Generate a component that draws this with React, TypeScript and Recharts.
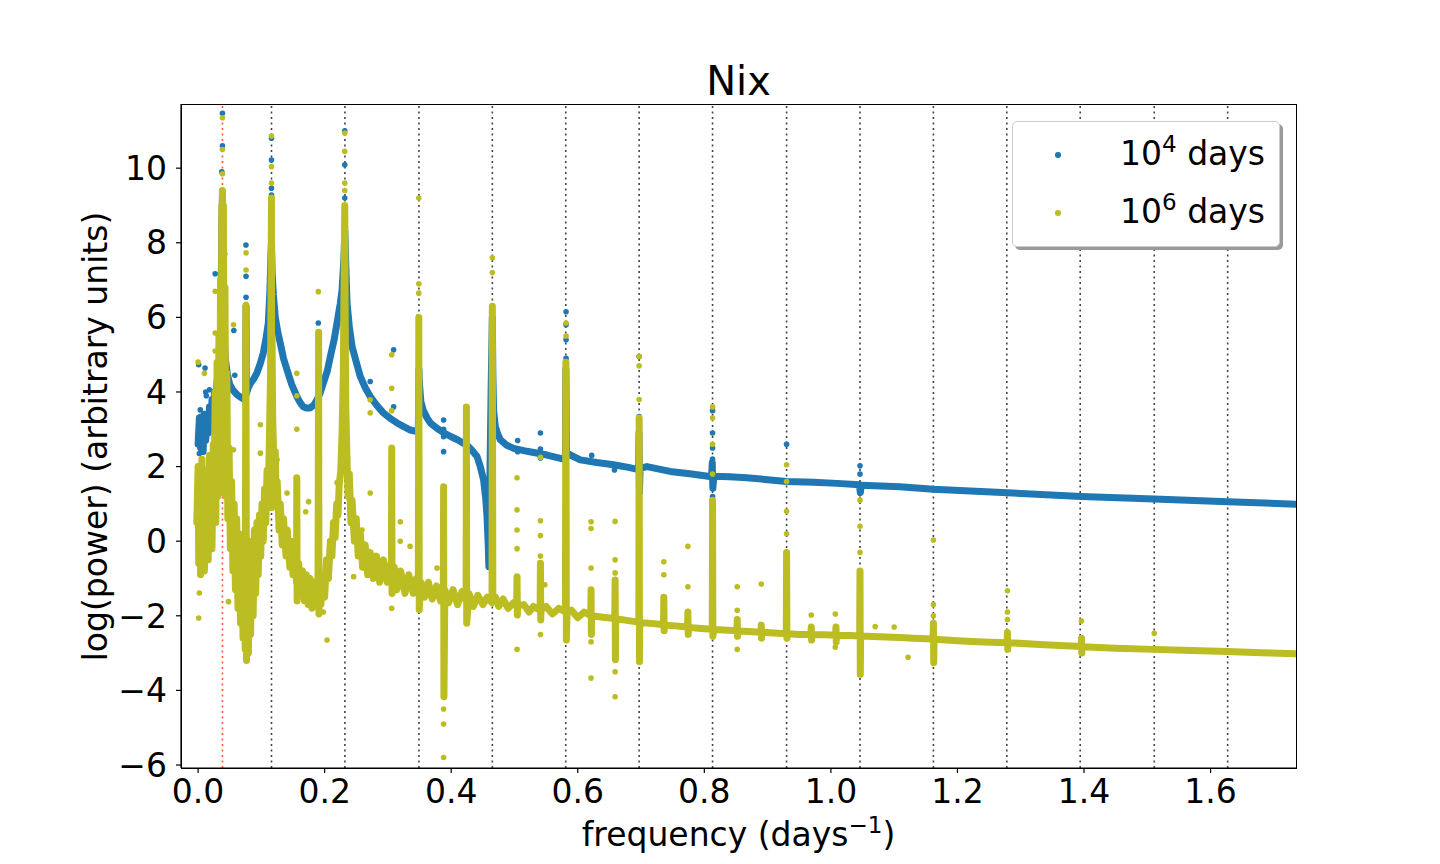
import { ReferenceLine, Scatter, ScatterChart, XAxis, YAxis } from "recharts";

const BLUE = "#1f77b4";
const OLIVE = "#bcbd22";

const xTicks = [0, 0.2, 0.4, 0.6, 0.8, 1.0, 1.2, 1.4, 1.6];
const yTicks = [-6, -4, -2, 0, 2, 4, 6, 8, 10];

// Nix orbital frequency (red) and the resonance lines (black)
const nixFreq = 0.0385;
const resonanceFreqs = [0.116, 0.232, 0.349, 0.465, 0.581, 0.697, 0.813, 0.93, 1.046, 1.162, 1.278, 1.394, 1.511, 1.627];

// 10^4 days: dense band, read along its middle
const blueBand: [number, number][] = [
  [0.0, 2.6], [0.002, 3.3], [0.004, 2.5], [0.006, 3.0], [0.008, 2.4], [0.01, 3.4], [0.012, 2.7],
  [0.014, 3.2], [0.016, 2.9], [0.018, 3.6], [0.02, 3.0], [0.022, 3.8], [0.024, 3.3], [0.026, 4.0],
  [0.028, 3.6], [0.03, 4.3], [0.032, 4.0], [0.034, 4.8], [0.036, 5.8], [0.0375, 8.5], [0.0385, 9.3],
  [0.0395, 8.0], [0.041, 5.6], [0.043, 4.9], [0.046, 4.5], [0.05, 4.2], [0.055, 4.05], [0.062, 3.92],
  [0.068, 3.85], [0.073, 3.8], [0.0755, 3.9], [0.0758, 6.3], [0.0762, 3.95], [0.079, 4.1], [0.083, 4.24],
  [0.088, 4.35], [0.093, 4.51], [0.098, 4.75], [0.103, 5.04], [0.107, 5.4], [0.111, 5.85], [0.1135, 6.7],
  [0.115, 7.6], [0.116, 8.0], [0.117, 7.2], [0.119, 6.6], [0.122, 6.0], [0.126, 5.6], [0.13, 5.3],
  [0.135, 4.9], [0.1406, 4.59], [0.148, 4.2], [0.156, 3.88], [0.161, 3.72], [0.166, 3.61], [0.171, 3.57],
  [0.177, 3.57], [0.183, 3.65], [0.188, 3.79], [0.193, 3.98], [0.198, 4.24], [0.204, 4.55], [0.209, 4.95],
  [0.215, 5.4], [0.2196, 5.85], [0.2245, 6.35], [0.2275, 6.73], [0.2305, 7.6], [0.232, 8.3], [0.233, 7.6],
  [0.2354, 6.38], [0.239, 5.75], [0.2433, 5.22], [0.25, 4.8], [0.2564, 4.41], [0.264, 4.12], [0.272, 3.88],
  [0.282, 3.65], [0.2927, 3.44], [0.303, 3.3], [0.3144, 3.17], [0.325, 3.07], [0.3354, 2.98], [0.343, 2.95],
  [0.348, 2.95], [0.349, 4.6], [0.3495, 4.3], [0.352, 3.75], [0.356, 3.5], [0.362, 3.3], [0.367, 3.17],
  [0.378, 3.02], [0.389, 2.9], [0.4, 2.8], [0.41, 2.72], [0.42, 2.62], [0.4245, 2.58], [0.432, 2.45],
  [0.4408, 2.27], [0.446, 2.0], [0.4512, 1.64], [0.4545, 1.15], [0.4566, 0.66], [0.4585, -0.1],
  [0.4595, -0.68], [0.461, 1.5], [0.463, 4.0], [0.465, 6.0], [0.4658, 4.5], [0.467, 3.5], [0.4697, 3.07],
  [0.4735, 2.88], [0.4775, 2.72], [0.487, 2.58], [0.4986, 2.49], [0.52, 2.41], [0.5513, 2.31], [0.5776, 2.2],
  [0.5805, 2.2], [0.5812, 4.6], [0.5822, 2.4], [0.5881, 2.31], [0.604, 2.18], [0.63, 2.11], [0.6566, 2.05],
  [0.68, 1.98], [0.6962, 1.92], [0.6968, 2.9], [0.6975, 1.3], [0.6985, 1.95], [0.7093, 2.0], [0.746, 1.87],
  [0.78, 1.8], [0.8115, 1.73], [0.8125, 2.1], [0.8135, 1.42], [0.815, 1.74], [0.84, 1.73], [0.867, 1.7],
  [0.9, 1.65], [0.93, 1.6], [0.9725, 1.58], [1.01, 1.55], [1.045, 1.51], [1.0465, 1.3], [1.048, 1.5],
  [1.109, 1.46], [1.162, 1.39], [1.279, 1.3], [1.3955, 1.2], [1.511, 1.13], [1.627, 1.06], [1.74, 0.99],
];

// 10^4 days: loose points off the band
const blueDots: [number, number][] = [
  [0.001, 4.73], [0.011, 4.64], [0.012, 4.0], [0.018, 4.06], [0.0035, 3.52], [0.004, 3.35], [0.013, 3.9],
  [0.0, 2.85], [0.002, 2.35], [0.008, 2.5], [0.027, 7.17], [0.0385, 11.47], [0.0385, 10.6], [0.0375, 9.9],
  [0.042, 7.7], [0.0565, 5.65], [0.058, 4.45], [0.0756, 7.94], [0.0758, 7.1], [0.0758, 6.54],
  [0.116, 10.8], [0.116, 10.22], [0.116, 9.46], [0.116, 9.28], [0.116, 8.88], [0.116, 8.34],
  [0.2318, 11.0], [0.2318, 10.09], [0.2318, 9.2], [0.232, 8.8], [0.19, 5.85], [0.19, 4.1],
  [0.272, 4.28], [0.309, 5.13], [0.309, 3.6], [0.349, 4.9], [0.349, 5.4], [0.388, 3.25], [0.388, 3.0],
  [0.388, 2.8], [0.388, 2.4], [0.424, 3.2], [0.424, 2.9], [0.424, 1.78], [0.465, 6.2], [0.465, 5.7],
  [0.505, 2.7], [0.505, 2.4], [0.541, 2.9], [0.541, 2.47], [0.541, 2.23], [0.5815, 6.15], [0.5815, 5.8],
  [0.5815, 5.4], [0.5815, 4.9], [0.622, 2.3], [0.658, 1.91], [0.697, 4.95], [0.697, 3.34], [0.697, 3.1],
  [0.813, 3.5], [0.813, 2.9], [0.813, 2.5], [0.813, 2.2], [0.813, 1.2], [0.93, 2.6], [1.046, 2.02],
  [1.046, 1.8], [1.046, 1.3],
];

// 10^6 days: dense band with its spikes, following the spread of the points
const oliveBand: [number, number][] = [
  [-0.002, 0.5], [0.0, 2.0], [0.001, -0.6], [0.003, 1.7], [0.004, -0.9], [0.006, 2.2], [0.007, -0.3],
  [0.009, 1.4], [0.01, -0.8], [0.012, 1.9], [0.013, 0.0], [0.015, 1.2], [0.016, -0.5], [0.018, 2.3],
  [0.019, 0.3], [0.021, 1.0], [0.022, -0.2], [0.024, 2.6], [0.025, 0.8], [0.027, 4.0], [0.028, 0.5],
  [0.03, 4.8], [0.031, 1.2], [0.033, 5.5], [0.034, 1.6], [0.0355, 7.0], [0.036, 1.4], [0.0375, 9.0],
  [0.038, 1.3], [0.0385, 9.4], [0.039, 1.5], [0.04, 9.0], [0.041, 1.8], [0.0425, 6.8], [0.044, 1.2],
  [0.0455, 4.5], [0.047, 0.6], [0.049, 2.5], [0.051, -0.2], [0.053, 1.6], [0.055, -0.8], [0.057, 1.0],
  [0.059, -1.3], [0.061, 0.6], [0.063, -1.8], [0.065, 0.2], [0.067, -2.2], [0.069, -0.2], [0.071, -2.6],
  [0.073, -0.6], [0.0745, -2.9], [0.0755, 6.3], [0.0765, -3.2], [0.078, -0.8], [0.0795, -3.0], [0.081, -0.4],
  [0.083, -2.5], [0.085, 0.0], [0.087, -2.0], [0.089, 0.3], [0.091, -1.4], [0.093, 0.5], [0.095, -0.9],
  [0.097, 0.7], [0.099, -0.4], [0.101, 1.0], [0.103, 0.0], [0.105, 1.4], [0.107, 0.5], [0.109, 1.9],
  [0.111, 1.3], [0.113, 3.0], [0.1145, 4.5], [0.1155, 7.5], [0.116, 9.2], [0.1163, 0.9], [0.1168, 5.5],
  [0.118, 3.2], [0.12, 2.0], [0.122, 2.4], [0.1235, 1.0], [0.125, 1.6], [0.128, 0.3], [0.13, 1.0],
  [0.133, -0.1], [0.135, 0.6], [0.139, -0.4], [0.141, 0.3], [0.145, -0.7], [0.147, 0.0], [0.15, -0.9],
  [0.153, -0.3], [0.1555, -1.1], [0.156, 1.7], [0.1565, -1.6], [0.159, -0.6], [0.162, -1.4], [0.165, -0.8],
  [0.168, -1.6], [0.171, -0.9], [0.174, -1.7], [0.177, -1.0], [0.18, -1.8], [0.183, -1.1], [0.1865, -1.7],
  [0.1895, -1.2], [0.1905, 5.6], [0.191, -1.95], [0.1915, -1.1], [0.194, -1.7], [0.197, -0.9], [0.2, -1.5],
  [0.203, -0.5], [0.206, -1.0], [0.209, 0.0], [0.2115, -0.4], [0.214, 0.5], [0.2165, 0.1], [0.219, 1.0],
  [0.221, 0.7], [0.223, 1.5], [0.2255, 1.9], [0.2275, 2.9], [0.2295, 4.5], [0.231, 7.5], [0.2318, 9.0],
  [0.2325, 6.0], [0.2335, 3.5], [0.2354, 2.18], [0.237, 1.2], [0.239, 1.8], [0.2415, 0.5], [0.2433, 1.1],
  [0.247, 0.0], [0.25, 0.6], [0.253, -0.4], [0.2565, 0.2], [0.26, -0.7], [0.264, -0.1], [0.268, -0.9],
  [0.272, -0.3], [0.277, -1.0], [0.282, -0.4], [0.287, -1.1], [0.293, -0.5], [0.299, -1.1], [0.3055, -0.6],
  [0.306, 2.5], [0.3065, -1.4], [0.307, -1.2], [0.31, -0.7], [0.314, -1.3], [0.32, -0.8], [0.327, -1.4],
  [0.333, -0.9], [0.34, -1.4], [0.345, -1.0], [0.348, -1.2], [0.3488, 6.0], [0.3495, -1.84], [0.352, -1.1],
  [0.358, -1.5], [0.364, -1.1], [0.37, -1.55], [0.377, -1.2], [0.383, -1.6], [0.3875, -1.3], [0.388, 1.46],
  [0.3885, -4.17], [0.39, -1.3], [0.396, -1.65], [0.403, -1.3], [0.41, -1.7], [0.417, -1.35], [0.4235, -1.6],
  [0.424, 3.6], [0.4245, -2.2], [0.428, -1.4], [0.435, -1.75], [0.442, -1.45], [0.45, -1.7], [0.457, -1.5],
  [0.4645, -1.65], [0.465, 6.3], [0.4658, -1.6], [0.47, -1.5], [0.475, -1.75], [0.482, -1.55], [0.49, -1.8],
  [0.4986, -1.65], [0.5035, -1.72], [0.504, -0.95], [0.5045, -1.98], [0.505, -1.73], [0.515, -1.7],
  [0.523, -1.9], [0.53, -1.75], [0.5405, -1.85], [0.541, -0.59], [0.5415, -2.11], [0.542, -1.83],
  [0.55, -1.75], [0.56, -1.95], [0.57, -1.8], [0.5805, -1.9], [0.5812, 4.8], [0.582, -2.65], [0.583, -1.92],
  [0.59, -1.85], [0.6, -2.05], [0.61, -1.9], [0.6205, -2.0], [0.621, -1.3], [0.6215, -2.5], [0.622, -2.0],
  [0.64, -2.04], [0.6585, -2.07], [0.659, -1.04], [0.6595, -3.18], [0.66, -2.08], [0.68, -2.13],
  [0.6965, -2.17], [0.697, 3.3], [0.6975, -3.23], [0.698, -2.18], [0.72, -2.21], [0.7355, -2.24],
  [0.736, -1.5], [0.7365, -2.4], [0.737, -2.25], [0.755, -2.27], [0.7735, -2.3], [0.774, -1.9],
  [0.7745, -2.5], [0.775, -2.31], [0.795, -2.34], [0.8125, -2.36], [0.813, 1.1], [0.8135, -2.55],
  [0.815, -2.37], [0.83, -2.38], [0.8515, -2.4], [0.852, -2.1], [0.8525, -2.55], [0.853, -2.41],
  [0.87, -2.42], [0.8895, -2.44], [0.89, -2.25], [0.8905, -2.6], [0.891, -2.44], [0.91, -2.46],
  [0.9295, -2.48], [0.93, -0.3], [0.9305, -2.6], [0.931, -2.48], [0.95, -2.5], [0.9685, -2.5],
  [0.969, -2.3], [0.9695, -2.65], [0.97, -2.5], [0.99, -2.51], [1.0075, -2.52], [1.008, -2.3],
  [1.0085, -2.7], [1.009, -2.52], [1.03, -2.53], [1.0455, -2.54], [1.046, -0.8], [1.0465, -3.57],
  [1.047, -2.54], [1.077, -2.56], [1.109, -2.58], [1.13, -2.6], [1.1615, -2.62], [1.162, -2.2],
  [1.1625, -3.26], [1.163, -2.63], [1.2, -2.67], [1.24, -2.7], [1.2785, -2.72], [1.279, -2.45],
  [1.2795, -2.9], [1.28, -2.72], [1.33, -2.77], [1.3955, -2.82], [1.396, -2.6], [1.3965, -3.0],
  [1.397, -2.83], [1.45, -2.87], [1.511, -2.9], [1.57, -2.93], [1.627, -2.96], [1.68, -2.99], [1.74, -3.02],
];

// 10^6 days: loose points
const oliveDots: [number, number][] = [
  [0.0385, 11.35], [0.0385, 10.5], [0.0385, 9.85], [0.0758, 7.73], [0.0758, 7.27], [0.0758, 6.35],
  [0.027, 6.7], [0.027, 5.58], [0.027, 5.1], [0.056, 5.8], [0.0, 4.8], [0.01, 4.5], [0.001, -2.06],
  [0.002, -1.39], [0.048, -1.62], [0.056, 2.45], [0.0984, 3.12], [0.0984, 2.36],
  [0.116, 10.86], [0.116, 10.04], [0.116, 9.6], [0.2318, 10.94], [0.2318, 10.45], [0.2318, 9.6],
  [0.2318, 9.4], [0.3488, 9.2], [0.3488, 6.9], [0.3488, 6.65], [0.465, 7.6], [0.465, 7.2],
  [0.5815, 5.85], [0.5815, 5.5], [0.697, 4.95], [0.697, 4.7], [0.697, 3.8], [0.813, 3.6], [0.813, 3.3],
  [0.813, 2.6], [0.813, 1.8], [0.93, 2.05], [0.93, 1.6], [0.93, 0.8], [0.93, 0.2], [1.046, 1.1],
  [1.046, 0.4], [1.046, -0.3], [1.162, 0.03], [1.162, -1.7], [1.162, -2.0], [1.279, -1.33], [1.279, -1.9],
  [1.279, -2.1], [1.396, -2.14], [1.511, -2.47], [1.1, -2.3], [1.122, -3.11],
  [0.156, 4.5], [0.156, 3.9], [0.156, 3.0], [0.19, 6.69], [0.19, 5.2], [0.19, 4.5], [0.19, 3.8],
  [0.306, 5.0], [0.306, 4.1], [0.306, 3.5], [0.306, -1.8], [0.272, 3.79], [0.272, 3.44], [0.272, 1.29],
  [0.388, -4.5], [0.388, -4.9], [0.388, -5.8], [0.424, 3.2], [0.1248, 2.18], [0.1406, 1.29],
  [0.1747, 1.06], [0.17, 0.79], [0.2038, -2.65], [0.198, -1.9], [0.2196, 1.57], [0.2458, -0.95],
  [0.288, -0.9], [0.259, 0.3], [0.3196, 0.52], [0.3196, 0.0], [0.335, -0.14], [0.362, -1.44],
  [0.3776, -0.72], [0.504, 1.7], [0.504, 0.84], [0.504, 0.3], [0.504, -0.2], [0.504, -2.9],
  [0.541, 2.25], [0.541, 0.55], [0.541, 0.15], [0.541, -0.4], [0.541, -2.5], [0.548, -1.17],
  [0.621, 0.52], [0.621, 0.34], [0.621, -0.72], [0.621, -2.7], [0.621, -3.67], [0.659, 0.53],
  [0.659, -0.5], [0.659, -0.85], [0.659, -3.5], [0.659, -4.17], [0.736, -0.55], [0.736, -0.9],
  [0.774, -0.14], [0.774, -1.22], [0.852, -1.22], [0.852, -1.85], [0.852, -2.9], [0.89, -1.15],
  [0.89, -2.6], [0.969, -1.98], [1.007, -1.95], [1.007, -2.84], [1.07, -2.29],
];

const toPoints = (pairs: [number, number][]) => pairs.map(([x, y]) => ({ x, y }));

const noShape = () => <g />;
const dot = (color: string) => (p: any) => <circle cx={p.cx} cy={p.cy} r={2.8} fill={color} />;

const fmtY = (v: number) => String(v).replace("-", "\u2212");

const bandLine = (color: string) => ({
  stroke: color,
  strokeWidth: 7,
  strokeLinejoin: "round" as const,
  strokeLinecap: "round" as const,
  fill: "none",
});

export default function App() {
  return (
    <div
      style={{
        position: "absolute",
        left: 0,
        top: 0,
        width: 1440,
        height: 864,
        background: "#fff",
        fontFamily: '"DejaVu Sans", sans-serif',
        color: "#000",
      }}
    >
      <ScatterChart width={1440} height={864} margin={{ top: 104, right: 144, bottom: 0, left: 0 }}>
        <XAxis
          type="number"
          dataKey="x"
          domain={[-0.027, 1.735]}
          ticks={xTicks}
          interval={0}
          allowDataOverflow
          tickFormatter={(v: number) => v.toFixed(1)}
          height={96}
          tickSize={5}
          tickMargin={7}
          tick={{ fontSize: 33, fill: "#000" }}
          axisLine={{ stroke: "#000", strokeWidth: 1.2 }}
          tickLine={{ stroke: "#000", strokeWidth: 1.2 }}
        />
        <YAxis
          type="number"
          dataKey="y"
          domain={[-6.08, 11.72]}
          ticks={yTicks}
          interval={0}
          allowDataOverflow
          tickFormatter={fmtY}
          width={181}
          tickSize={5}
          tickMargin={9}
          tick={{ fontSize: 33, fill: "#000" }}
          axisLine={{ stroke: "#000", strokeWidth: 1.2 }}
          tickLine={{ stroke: "#000", strokeWidth: 1.2 }}
        />

        <Scatter data={toPoints(blueBand)} fill={BLUE} line={bandLine(BLUE)} shape={noShape} isAnimationActive={false} />
        <Scatter data={toPoints(blueDots)} fill={BLUE} shape={dot(BLUE)} isAnimationActive={false} />
        <Scatter data={toPoints(oliveBand)} fill={OLIVE} line={bandLine(OLIVE)} shape={noShape} isAnimationActive={false} />
        <Scatter data={toPoints(oliveDots)} fill={OLIVE} shape={dot(OLIVE)} isAnimationActive={false} />

        <ReferenceLine x={nixFreq} stroke="#ff5733" strokeWidth={1.6} strokeDasharray="2 3.5" />
        {resonanceFreqs.map((f) => (
          <ReferenceLine key={f} x={f} stroke="#444" strokeWidth={1.6} strokeDasharray="2 3.5" />
        ))}
      </ScatterChart>

      {/* plot frame */}
      <div
        style={{
          position: "absolute",
          left: 180.5,
          top: 103.5,
          width: 1116,
          height: 665,
          boxSizing: "border-box",
          border: "1.2px solid #000",
          pointerEvents: "none",
        }}
      />

      <div style={{ position: "absolute", left: 181, width: 1115, top: 61, textAlign: "center", fontSize: 40, lineHeight: 1 }}>
        Nix
      </div>
      <div style={{ position: "absolute", left: 181, width: 1115, top: 818, textAlign: "center", fontSize: 33, lineHeight: 1 }}>
        frequency (days<span style={{ fontSize: 23, position: "relative", top: -13 }}>{"\u22121"}</span>)
      </div>
      <div
        style={{
          position: "absolute",
          left: 95 - 300,
          top: 436 - 16.5,
          width: 600,
          height: 33,
          textAlign: "center",
          fontSize: 33,
          lineHeight: "33px",
          transform: "rotate(-90deg)",
          transformOrigin: "center",
          whiteSpace: "nowrap",
        }}
      >
        log(power) (arbitrary units)
      </div>

      <div
        style={{
          position: "absolute",
          left: 1012,
          top: 121,
          width: 268,
          height: 126,
          boxSizing: "border-box",
          border: "1px solid #cccccc",
          borderRadius: 5,
          background: "#fff",
          boxShadow: "3px 3px 0 #9a9a9a",
        }}
      />
      {[
        { color: BLUE, exp: "4", y: 155 },
        { color: OLIVE, exp: "6", y: 213 },
      ].map((e) => (
        <div key={e.exp}>
          <div
            style={{
              position: "absolute",
              left: 1058 - 2.8,
              top: e.y - 2.8,
              width: 5.6,
              height: 5.6,
              borderRadius: "50%",
              background: e.color,
            }}
          />
          <div style={{ position: "absolute", left: 1120, top: e.y + 10 - 28, fontSize: 33, lineHeight: 1, whiteSpace: "nowrap" }}>
            10<span style={{ fontSize: 23, position: "relative", top: -13 }}>{e.exp}</span> days
          </div>
        </div>
      ))}
    </div>
  );
}
